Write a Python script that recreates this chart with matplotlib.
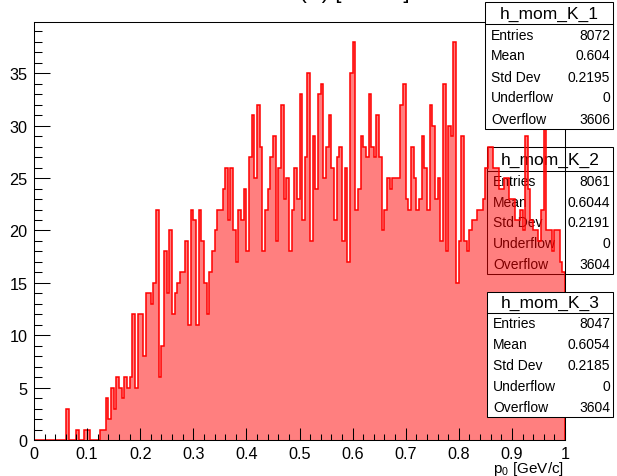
import numpy as np
import matplotlib.pyplot as plt
from matplotlib.patches import Rectangle
from matplotlib.lines import Line2D
from matplotlib.ticker import MultipleLocator

plt.rcParams['font.family'] = ['Liberation Sans', 'DejaVu Sans']

# bin contents, 200 bins between 0 and 1 GeV/c
counts = [
    0, 0, 0, 0, 0, 0, 0, 0, 0, 0, 0, 0, 3, 0, 0, 0, 1, 0, 0, 1,
    1, 0, 0, 0, 0, 1, 1, 4, 2, 5, 3, 6, 5, 4, 6, 5, 6, 12, 5, 12,
    12, 8, 14, 14, 13, 15, 22, 6, 9, 18, 14, 20, 12, 14, 15, 16, 16, 19, 11, 22,
    21, 11, 22, 19, 15, 12, 16, 18, 20, 22, 22, 24, 26, 21, 26, 20, 17, 22, 21, 24,
    18, 27, 31, 25, 32, 28, 18, 22, 24, 27, 29, 19, 26, 32, 23, 25, 18, 22, 26, 23,
    33, 21, 27, 35, 19, 29, 24, 33, 34, 25, 28, 31, 26, 21, 27, 28, 19, 26, 17, 35,
    38, 22, 24, 29, 28, 27, 33, 28, 27, 31, 27, 20, 22, 25, 24, 25, 25, 25, 32, 34,
    23, 22, 28, 25, 22, 23, 29, 26, 22, 32, 30, 23, 25, 19, 34, 18, 30, 29, 38, 15,
    19, 29, 19, 18, 20, 21, 21, 22, 22, 23, 26, 28, 28, 26, 26, 24, 24, 25, 25, 23,
    23, 21, 21, 22, 20, 29, 24, 21, 20, 20, 19, 22, 31, 20, 20, 18, 20, 20, 17, 16,
]
edges = np.linspace(0.0, 1.0, len(counts) + 1)

x_ticks = [0, 0.1, 0.2, 0.3, 0.4, 0.5, 0.6, 0.7, 0.8, 0.9, 1]
x_labels = ['0', '0.1', '0.2', '0.3', '0.4', '0.5', '0.6', '0.7', '0.8', '0.9', '1']
y_ticks = [0, 5, 10, 15, 20, 25, 30, 35]

hist_names = ['h_mom_K_1', 'h_mom_K_2', 'h_mom_K_3']
stat_labels = ['Entries', 'Mean', 'Std Dev', 'Underflow', 'Overflow']
stats_k1 = ['8072', '0.604', '0.2195', '0', '3606']
stats_k2 = ['8061', '0.6044', '0.2191', '0', '3604']
stats_k3 = ['8047', '0.6054', '0.2185', '0', '3604']

W, H = 617, 477


def fx(px):
    return px / W


def fy(py):
    return 1 - py / H


fig = plt.figure(figsize=(W / 100, H / 100), dpi=100)
ax = fig.add_axes([fx(34), fy(441), fx(565) - fx(34), fy(23) - fy(441)])
ax.patch.set_visible(False)

ax.stairs(counts, edges, fill=True, facecolor=(1, 0, 0, 0.5), edgecolor='none',
          linewidth=0)
ax.stairs(counts, edges, color='red', linewidth=1.1)

ax.set_xlim(0, 1)
ax.set_ylim(0, 1.05 * max(counts))
ax.set_xticks(x_ticks)
ax.set_xticklabels(x_labels)
ax.set_yticks(y_ticks)
ax.xaxis.set_minor_locator(MultipleLocator(0.02))
ax.yaxis.set_minor_locator(MultipleLocator(1))
ax.tick_params(axis='x', which='major', direction='in', length=9, width=0.75,
               labelsize=11.7, pad=4.5, top=False)
ax.tick_params(axis='x', which='minor', direction='in', length=4.5, width=0.75,
               top=False)
ax.tick_params(axis='y', which='major', direction='in', length=11.5, width=0.75,
               labelsize=11.7, pad=4.5, right=False)
ax.tick_params(axis='y', which='minor', direction='in', length=5.8, width=0.75,
               right=False)
for s in ax.spines.values():
    s.set_linewidth(0.75)

fig.text(fx(564), fy(473.5), r'p$_{\mathregular{0}}$ [GeV/c]', ha='right',
         va='baseline', fontsize=11)

# title sits mostly above the canvas, only its lower edge shows
fig.text(fx(182), fy(-1.5), 'Momentum (K) [GeV/c]', ha='left', va='baseline',
         fontsize=16)


def stat_box(left, top, sep, bottom, name, values, z):
    right = 613
    fig.add_artist(Rectangle((fx(left), fy(bottom)), fx(right) - fx(left),
                             fy(top) - fy(bottom), transform=fig.transFigure,
                             facecolor='white', edgecolor='black', lw=0.75,
                             zorder=z))
    fig.add_artist(Line2D([fx(left), fx(right)], [fy(sep), fy(sep)],
                          transform=fig.transFigure, color='black', lw=0.75,
                          zorder=z))
    fig.text(fx((left + right) / 2), fy((top + sep) / 2), name, ha='center',
             va='center', fontsize=12.5, zorder=z)
    row_h = (bottom - sep) / len(stat_labels)
    for i, (lab, val) in enumerate(zip(stat_labels, values)):
        yc = sep + row_h * (i + 0.5)
        fig.text(fx(left + 6), fy(yc), lab, ha='left', va='center',
                 fontsize=10, zorder=z)
        fig.text(fx(right - 3), fy(yc), val, ha='right', va='center',
                 fontsize=10, zorder=z)


# second box sits under the histogram, the other two on top
stat_box(485, 3, 25, 130, hist_names[0], stats_k1, 5)
stat_box(487, 148, 172, 275, hist_names[1], stats_k2, -1)
stat_box(487, 293, 314, 418, hist_names[2], stats_k3, 5)

fig.savefig('out.png', dpi=100)
